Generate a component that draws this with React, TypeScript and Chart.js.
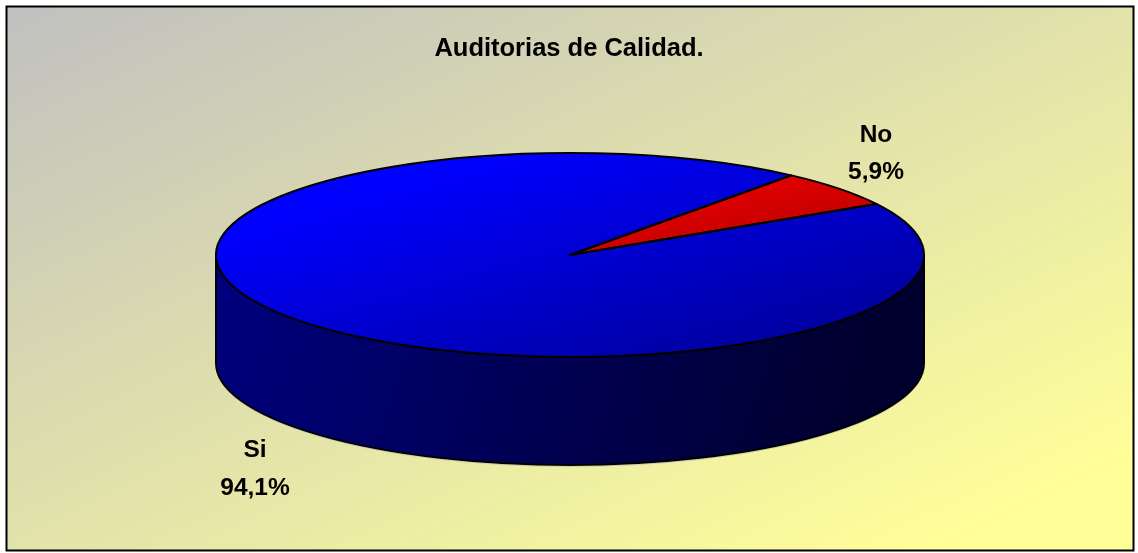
import React, { useEffect, useRef } from "react";
import { Chart, registerables } from "chart.js";

Chart.register(...registerables);

const categories = ["No", "Si"];
const seriesValues = [5.9, 94.1];
const titleText = "Auditorias de Calidad.";

const W = 1138;
const H = 553;
const CX = 570;
const CY = 255;
const RX = 354;
const RY = 102;
const DEPTH = 108;
const startRotation = 38.7;
const labelFont = "bold 24.5px 'Liberation Sans', Arial, sans-serif";
const labelAnchors = [
  { x: 876, nameY: 135, valueY: 172 },
  { x: 255, nameY: 450, valueY: 488 },
];

function grad(ctx: CanvasRenderingContext2D, x0: number, y0: number, x1: number, y1: number, a: string, b: string) {
  const g = ctx.createLinearGradient(x0, y0, x1, y1);
  g.addColorStop(0, a);
  g.addColorStop(1, b);
  return g;
}

const pie3d = {
  id: "pie3d",
  beforeDraw(chart: any) {
    const ctx: CanvasRenderingContext2D = chart.ctx;
    const x = 7, y = 7, w = 1126, h = 543;
    ctx.save();
    ctx.fillStyle = "#fff";
    ctx.fillRect(0, 0, W, H);
    ctx.save();
    ctx.translate(x, y);
    ctx.scale(w, h);
    const g = ctx.createLinearGradient(0, 0, 1, 1);
    g.addColorStop(0, "#c0c0c0");
    g.addColorStop(0.92, "#ffff99");
    g.addColorStop(1, "#ffff99");
    ctx.fillStyle = g;
    ctx.fillRect(0, 0, 1, 1);
    ctx.restore();
    ctx.strokeStyle = "#000";
    ctx.lineWidth = 2;
    ctx.strokeRect(x - 0.5, y - 0.5, w + 1, h + 1);
    ctx.restore();
  },
  beforeDatasetsDraw(chart: any) {
    const ctx: CanvasRenderingContext2D = chart.ctx;
    const arcs = chart.getDatasetMeta(0).data;
    // side wall: the part of each slice's rim that faces the viewer
    ctx.save();
    const wall = grad(ctx, CX - RX, CY, CX + RX * 0.75, CY + RY + DEPTH, "#00007f", "#00002e");
    arcs.forEach((el: any) => {
      const segs = [
        [el.startAngle, el.endAngle],
        [el.startAngle + Math.PI * 2, el.endAngle + Math.PI * 2],
        [el.startAngle - Math.PI * 2, el.endAngle - Math.PI * 2],
      ];
      segs.forEach(([s0, e0]) => {
        const s = Math.max(s0, 0);
        const e = Math.min(e0, Math.PI);
        if (e <= s) return;
        ctx.beginPath();
        ctx.ellipse(CX, CY + DEPTH + 1.5, RX, RY, 0, s + 0.02, e - 0.02);
        ctx.strokeStyle = "rgba(190,190,190,0.7)";
        ctx.lineWidth = 1;
        ctx.stroke();
        ctx.beginPath();
        ctx.ellipse(CX, CY, RX, RY, 0, s, e);
        ctx.ellipse(CX, CY + DEPTH, RX, RY, 0, e, s, true);
        ctx.closePath();
        ctx.fillStyle = wall;
        ctx.fill();
        ctx.strokeStyle = "#000";
        ctx.lineWidth = 2;
        ctx.lineJoin = "round";
        ctx.stroke();
      });
    });
    ctx.restore();
    // the library's pie is drawn squashed into the top ellipse
    const a = arcs[0];
    ctx.save();
    ctx.translate(CX, CY);
    ctx.scale(RX / a.outerRadius, RY / a.outerRadius);
    ctx.translate(-a.x, -a.y);
  },
  afterDatasetsDraw(chart: any) {
    const ctx: CanvasRenderingContext2D = chart.ctx;
    ctx.restore();
    const arcs = chart.getDatasetMeta(0).data;
    ctx.save();
    ctx.strokeStyle = "#000";
    ctx.lineWidth = 2;
    ctx.lineJoin = "round";
    arcs.forEach((el: any) => {
      ctx.beginPath();
      ctx.moveTo(CX, CY);
      ctx.ellipse(CX, CY, RX, RY, 0, el.startAngle, el.endAngle);
      ctx.closePath();
      ctx.stroke();
    });
    ctx.fillStyle = "#000";
    ctx.font = labelFont;
    ctx.textAlign = "center";
    ctx.textBaseline = "middle";
    categories.forEach((name, i) => {
      const p = labelAnchors[i];
      ctx.fillText(name, p.x, p.nameY);
      ctx.fillText(seriesValues[i].toFixed(1).replace(".", ",") + "%", p.x, p.valueY);
    });
    ctx.restore();
  },
};

export default function App() {
  const ref = useRef<HTMLCanvasElement>(null);
  useEffect(() => {
    document.body.style.margin = "0";
    const chart = new Chart(ref.current!, {
      type: "pie",
      data: {
        labels: categories,
        datasets: [
          {
            data: seriesValues,
            borderWidth: 0,
            backgroundColor: (c: any) => {
              const a = c.chart.chartArea;
              const ctx = c.chart.ctx;
              if (!a) return "#00f";
              const r = Math.min(a.width, a.height) / 2;
              const mx = (a.left + a.right) / 2;
              const my = (a.top + a.bottom) / 2;
              return c.dataIndex === 0
                ? grad(ctx, mx + r * 0.1, my - r, mx + r, my + r * 0.2, "#ff0000", "#a00000")
                : grad(ctx, mx - r * 0.6, my - r * 0.6, mx + r, my + r, "#0000ff", "#00008c");
            },
          },
        ],
      },
      options: {
        responsive: false,
        animation: false,
        rotation: startRotation,
        layout: { padding: { top: 0, bottom: 10 } },
        plugins: {
          legend: { display: false },
          tooltip: { enabled: false },
          title: {
            display: true,
            text: titleText,
            color: "#000",
            font: { family: "'Liberation Sans', Arial, sans-serif", size: 25.5, weight: "bold" },
            padding: { top: 34, bottom: 10 },
          },
        },
      },
      plugins: [pie3d],
    } as any);
    return () => chart.destroy();
  }, []);
  return <canvas ref={ref} width={W} height={H} style={{ display: "block" }} />;
}
